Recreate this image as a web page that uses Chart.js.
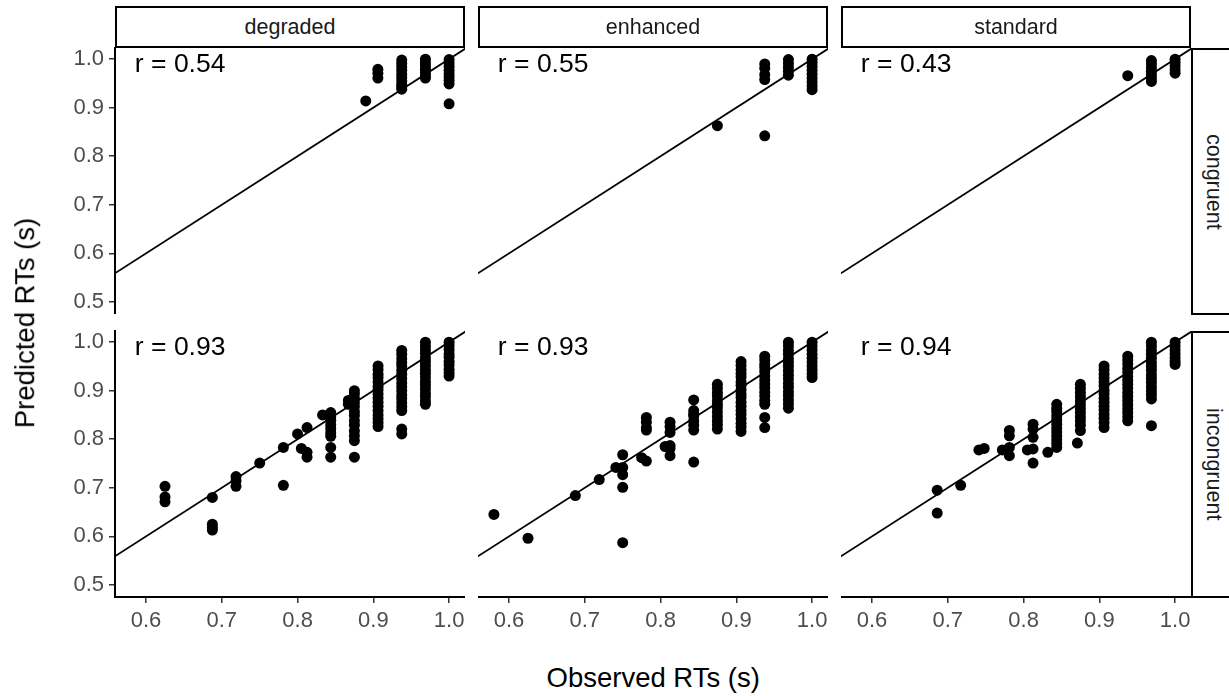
<!DOCTYPE html>
<html>
<head>
<meta charset="utf-8">
<script src="https://cdn.jsdelivr.net/npm/chart.js@4.4.1/dist/chart.umd.min.js"></script>
<style>
  html, body { margin: 0; padding: 0; background: #fff; overflow: hidden; }
  #fig { position: relative; width: 1229px; height: 696px; overflow: hidden;
         font-family: "Liberation Sans", Arial, sans-serif; }
  #fig canvas { position: absolute; }
  .strip { position: absolute; box-sizing: border-box; border: 2px solid #000; background: #fff;
           color: #1a1a1a; font-size: 21.5px; display: flex; align-items: center; justify-content: center; }
  .strip.side { writing-mode: vertical-rl; }
  .title { position: absolute; color: #000; font-size: 27.5px; white-space: nowrap; }
</style>
</head>
<body>
<div id="fig"></div>
<script>
// facets
var conditions = ['degraded', 'enhanced', 'standard'];
var congruency = ['congruent', 'incongruent'];
var rValues = [[0.54, 0.55, 0.43], [0.93, 0.93, 0.94]];

var xTicks = [0.6, 0.7, 0.8, 0.9, 1.0];
var yTicks = [0.5, 0.6, 0.7, 0.8, 0.9, 1.0];

// degraded / congruent
var degCongObs  = [0.89,
  0.906, 0.906, 0.906,
  0.9375, 0.9375, 0.9375, 0.9375, 0.9375, 0.9375, 0.9375, 0.9375, 0.9375, 0.9375,
  0.96875, 0.96875, 0.96875, 0.96875, 0.96875, 0.96875, 0.96875,
  1.0, 1.0, 1.0, 1.0, 1.0, 1.0, 1.0, 1.0, 1.0];
var degCongPred = [0.914,
  0.979, 0.971, 0.961,
  0.998, 0.991, 0.984, 0.977, 0.969, 0.962, 0.955, 0.948, 0.943, 0.938,
  1.0, 0.993, 0.986, 0.979, 0.972, 0.966, 0.961,
  0.999, 0.992, 0.985, 0.977, 0.970, 0.963, 0.956, 0.949, 0.908];

// enhanced / congruent
var enhCongObs  = [0.875,
  0.9375, 0.9375, 0.9375, 0.9375, 0.9375,
  0.96875, 0.96875, 0.96875, 0.96875, 0.96875,
  1.0, 1.0, 1.0, 1.0, 1.0, 1.0, 1.0, 1.0, 1.0];
var enhCongPred = [0.863,
  0.990, 0.981, 0.968, 0.958, 0.842,
  0.999, 0.991, 0.983, 0.975, 0.967,
  1.0, 0.993, 0.985, 0.977, 0.969, 0.961, 0.953, 0.945, 0.937];

// standard / congruent
var stdCongObs  = [0.9375,
  0.96875, 0.96875, 0.96875, 0.96875, 0.96875, 0.96875, 0.96875,
  1.0, 1.0, 1.0, 1.0, 1.0];
var stdCongPred = [0.966,
  0.997, 0.990, 0.982, 0.975, 0.968, 0.961, 0.954,
  1.0, 0.993, 0.986, 0.978, 0.971];

// degraded / incongruent
var degIncObs  = [0.625, 0.625, 0.625,
  0.6875, 0.6875, 0.6875, 0.6875,
  0.71875, 0.71875, 0.71875,
  0.75,
  0.78125, 0.78125,
  0.8, 0.805,
  0.8125, 0.8125, 0.8125,
  0.833,
  0.84375, 0.84375, 0.84375, 0.84375, 0.84375, 0.84375, 0.84375, 0.84375, 0.84375,
  0.867, 0.867,
  0.875, 0.875, 0.875, 0.875, 0.875, 0.875, 0.875, 0.875, 0.875, 0.875, 0.875, 0.875, 0.875,
  0.90625, 0.90625, 0.90625, 0.90625, 0.90625, 0.90625, 0.90625, 0.90625, 0.90625, 0.90625, 0.90625, 0.90625, 0.90625, 0.90625, 0.90625, 0.90625,
  0.9375, 0.9375, 0.9375, 0.9375, 0.9375, 0.9375, 0.9375, 0.9375, 0.9375, 0.9375, 0.9375, 0.9375, 0.9375, 0.9375, 0.9375, 0.9375, 0.9375, 0.9375,
  0.96875, 0.96875, 0.96875, 0.96875, 0.96875, 0.96875, 0.96875, 0.96875, 0.96875, 0.96875, 0.96875, 0.96875, 0.96875, 0.96875, 0.96875, 0.96875, 0.96875,
  1.0, 1.0, 1.0, 1.0, 1.0, 1.0, 1.0, 1.0, 1.0, 1.0];
var degIncPred = [0.703, 0.681, 0.671,
  0.680, 0.625, 0.618, 0.613,
  0.723, 0.714, 0.703,
  0.751,
  0.783, 0.705,
  0.811, 0.781,
  0.824, 0.773, 0.763,
  0.850,
  0.855, 0.846, 0.839, 0.830, 0.822, 0.813, 0.806, 0.783, 0.763,
  0.880, 0.872,
  0.900, 0.893, 0.884, 0.875, 0.867, 0.857, 0.849, 0.838, 0.829, 0.817, 0.807, 0.797, 0.763,
  0.951, 0.943, 0.934, 0.927, 0.918, 0.909, 0.902, 0.893, 0.885, 0.876, 0.868, 0.859, 0.850, 0.842, 0.834, 0.826,
  0.983, 0.975, 0.966, 0.958, 0.951, 0.942, 0.934, 0.925, 0.916, 0.908, 0.900, 0.891, 0.884, 0.875, 0.867, 0.859, 0.821, 0.811,
  1.0, 0.992, 0.984, 0.977, 0.968, 0.960, 0.952, 0.943, 0.936, 0.928, 0.919, 0.912, 0.904, 0.895, 0.888, 0.879, 0.872,
  1.0, 0.993, 0.985, 0.976, 0.969, 0.960, 0.953, 0.944, 0.937, 0.930];

// enhanced / incongruent
var enhIncObs  = [0.58, 0.625, 0.6875, 0.719, 0.741,
  0.75, 0.75, 0.75, 0.75, 0.75,
  0.775,
  0.78125, 0.78125, 0.78125, 0.78125, 0.78125,
  0.806,
  0.8125, 0.8125, 0.8125, 0.8125, 0.8125, 0.8125,
  0.84375, 0.84375, 0.84375, 0.84375, 0.84375, 0.84375, 0.84375, 0.84375,
  0.875, 0.875, 0.875, 0.875, 0.875, 0.875, 0.875, 0.875, 0.875, 0.875, 0.875, 0.875,
  0.90625, 0.90625, 0.90625, 0.90625, 0.90625, 0.90625, 0.90625, 0.90625, 0.90625, 0.90625, 0.90625, 0.90625, 0.90625, 0.90625, 0.90625, 0.90625, 0.90625, 0.90625,
  0.9375, 0.9375, 0.9375, 0.9375, 0.9375, 0.9375, 0.9375, 0.9375, 0.9375, 0.9375, 0.9375, 0.9375, 0.9375, 0.9375, 0.9375,
  0.96875, 0.96875, 0.96875, 0.96875, 0.96875, 0.96875, 0.96875, 0.96875, 0.96875, 0.96875, 0.96875, 0.96875, 0.96875, 0.96875, 0.96875, 0.96875, 0.96875,
  1.0, 1.0, 1.0, 1.0, 1.0, 1.0, 1.0, 1.0, 1.0, 1.0];
var enhIncPred = [0.645, 0.596, 0.684, 0.717, 0.742,
  0.768, 0.742, 0.727, 0.701, 0.587,
  0.762,
  0.845, 0.835, 0.824, 0.819, 0.755,
  0.785,
  0.835, 0.826, 0.814, 0.787, 0.781, 0.766,
  0.881, 0.859, 0.852, 0.848, 0.838, 0.829, 0.819, 0.753,
  0.913, 0.905, 0.896, 0.889, 0.880, 0.872, 0.865, 0.856, 0.847, 0.838, 0.830, 0.821,
  0.960, 0.952, 0.943, 0.935, 0.928, 0.918, 0.911, 0.902, 0.893, 0.886, 0.876, 0.868, 0.859, 0.851, 0.842, 0.833, 0.825, 0.816,
  0.971, 0.963, 0.954, 0.947, 0.939, 0.930, 0.922, 0.914, 0.906, 0.897, 0.889, 0.880, 0.872, 0.845, 0.824,
  1.0, 0.992, 0.983, 0.975, 0.966, 0.958, 0.950, 0.941, 0.932, 0.924, 0.915, 0.907, 0.898, 0.890, 0.881, 0.873, 0.864,
  1.0, 0.992, 0.984, 0.975, 0.967, 0.959, 0.951, 0.943, 0.935, 0.927];

// standard / incongruent
var stdIncObs  = [0.686, 0.686, 0.717, 0.741, 0.748, 0.772,
  0.78125, 0.78125, 0.78125, 0.78125,
  0.805,
  0.8125, 0.8125, 0.8125, 0.8125, 0.8125,
  0.832,
  0.84375, 0.84375, 0.84375, 0.84375, 0.84375, 0.84375, 0.84375, 0.84375, 0.84375, 0.84375, 0.84375, 0.84375,
  0.871,
  0.875, 0.875, 0.875, 0.875, 0.875, 0.875, 0.875, 0.875, 0.875, 0.875, 0.875, 0.875,
  0.90625, 0.90625, 0.90625, 0.90625, 0.90625, 0.90625, 0.90625, 0.90625, 0.90625, 0.90625, 0.90625, 0.90625, 0.90625, 0.90625, 0.90625, 0.90625,
  0.9375, 0.9375, 0.9375, 0.9375, 0.9375, 0.9375, 0.9375, 0.9375, 0.9375, 0.9375, 0.9375, 0.9375, 0.9375, 0.9375, 0.9375, 0.9375, 0.9375,
  0.96875, 0.96875, 0.96875, 0.96875, 0.96875, 0.96875, 0.96875, 0.96875, 0.96875, 0.96875, 0.96875, 0.96875, 0.96875, 0.96875, 0.96875, 0.96875,
  1.0, 1.0, 1.0, 1.0, 1.0, 1.0, 1.0];
var stdIncPred = [0.695, 0.648, 0.705, 0.778, 0.781, 0.778,
  0.818, 0.807, 0.783, 0.766,
  0.778,
  0.831, 0.821, 0.804, 0.780, 0.751,
  0.773,
  0.872, 0.864, 0.857, 0.848, 0.840, 0.831, 0.823, 0.815, 0.807, 0.799, 0.791, 0.783,
  0.792,
  0.913, 0.905, 0.896, 0.888, 0.879, 0.871, 0.863, 0.855, 0.846, 0.838, 0.829, 0.818,
  0.951, 0.943, 0.934, 0.926, 0.918, 0.910, 0.901, 0.893, 0.884, 0.876, 0.868, 0.860, 0.851, 0.843, 0.834, 0.824,
  0.971, 0.963, 0.955, 0.946, 0.938, 0.929, 0.921, 0.913, 0.905, 0.896, 0.888, 0.880, 0.871, 0.863, 0.855, 0.846, 0.838,
  1.0, 0.992, 0.983, 0.975, 0.967, 0.958, 0.950, 0.942, 0.933, 0.925, 0.917, 0.908, 0.900, 0.892, 0.883, 0.828,
  1.0, 0.992, 0.984, 0.976, 0.968, 0.960, 0.954];

var panelData = [
  [[degCongObs, degCongPred], [enhCongObs, enhCongPred], [stdCongObs, stdCongPred]],
  [[degIncObs, degIncPred], [enhIncObs, enhIncPred], [stdIncObs, stdIncPred]]
];

// page layout (px)
var FONT = '"Liberation Sans", Arial, sans-serif';
var colLeft = [115, 478, 841];
var rowTop = [47, 330];
var panelW = 350, panelH = 267;
var yAxisW = 115, xAxisH = 40;
var xRange = [0.559, 1.021];
var yRange = [0.475, 1.025];

var fig = document.getElementById('fig');

// r annotation in the top left corner of each panel
var rLabel = {
  id: 'rLabel',
  afterDatasetsDraw: function(chart, args, opts) {
    var ctx = chart.ctx, sx = chart.scales.x, sy = chart.scales.y;
    ctx.save();
    ctx.font = '26.5px ' + FONT;
    ctx.fillStyle = '#000';
    ctx.textAlign = 'center';
    ctx.textBaseline = 'alphabetic';
    ctx.fillText(opts.text, sx.getPixelForValue(0.645), sy.getPixelForValue(0.974));
    ctx.restore();
  }
};

function axisOpts(range, ticks, show, horizontal) {
  return {
    type: 'linear',
    min: range[0],
    max: range[1],
    bounds: 'data',
    display: show,
    afterBuildTicks: function(s) { s.ticks = ticks.map(function(v) { return { value: v }; }); },
    afterFit: function(s) {
      // hidden axes take no room at all
      if (!show) { s.width = 0; s.height = 0; }
      else if (horizontal) { s.height = xAxisH; }
      else { s.width = yAxisW; }
      s.paddingLeft = s.paddingRight = s.paddingTop = s.paddingBottom = 0;
    },
    grid: { drawOnChartArea: false, drawTicks: true, tickLength: 6, color: '#333333', lineWidth: 1.5 },
    border: { display: true, color: '#000', width: 2 },
    ticks: {
      color: '#4d4d4d',
      font: { family: FONT, size: 22 },
      padding: horizontal ? 5 : 5,
      maxRotation: 0,
      autoSkip: false,
      callback: function(v) { return Number(v).toFixed(1); }
    }
  };
}

for (var row = 0; row < 2; row++) {
  for (var col = 0; col < 3; col++) {
    var showY = col === 0, showX = row === 1;
    var w = panelW + (showY ? yAxisW : 0);
    var h = panelH + (showX ? xAxisH : 0);
    var cv = document.createElement('canvas');
    cv.width = w; cv.height = h;
    cv.style.width = w + 'px';
    cv.style.height = h + 'px';
    cv.style.left = (colLeft[col] - (showY ? yAxisW : 0)) + 'px';
    cv.style.top = rowTop[row] + 'px';
    fig.appendChild(cv);

    var obs = panelData[row][col][0], pred = panelData[row][col][1];
    var pts = obs.map(function(x, i) { return { x: x, y: pred[i] }; });

    new Chart(cv, {
      type: 'scatter',
      data: {
        datasets: [{
          // identity line y = x
          type: 'line',
          data: [{ x: 0.4, y: 0.4 }, { x: 1.1, y: 1.1 }],
          borderColor: '#000',
          borderWidth: 1.8,
          pointRadius: 0,
          fill: false
        }, {
          data: pts,
          backgroundColor: '#000',
          borderWidth: 0,
          pointRadius: 5.5
        }]
      },
      options: {
        responsive: false,
        maintainAspectRatio: false,
        animation: false,
        devicePixelRatio: 1,
        layout: { padding: 0, autoPadding: false },
        plugins: {
          legend: { display: false },
          tooltip: { enabled: false },
          rLabel: { text: 'r = ' + rValues[row][col].toFixed(2) }
        },
        scales: {
          x: axisOpts(xRange, xTicks, showX, true),
          y: axisOpts(yRange, yTicks, showY, false)
        }
      },
      plugins: [rLabel]
    });
  }
}

// strips on top (columns) and right (rows)
conditions.forEach(function(name, i) {
  var d = document.createElement('div');
  d.className = 'strip';
  d.style.left = colLeft[i] + 'px';
  d.style.top = '6px';
  d.style.width = panelW + 'px';
  d.style.height = '42px';
  d.textContent = name;
  fig.appendChild(d);
});
congruency.forEach(function(name, i) {
  var d = document.createElement('div');
  d.className = 'strip side';
  d.style.left = '1191px';
  d.style.top = (rowTop[i] + 1) + 'px';
  d.style.width = '45px';
  d.style.height = panelH + 'px';
  d.textContent = name;
  fig.appendChild(d);
});

// axis titles
var xt = document.createElement('div');
xt.className = 'title';
xt.textContent = 'Observed RTs (s)';
fig.appendChild(xt);
xt.style.left = (653 - xt.offsetWidth / 2) + 'px';
xt.style.top = (678 - xt.offsetHeight / 2) + 'px';

var yt = document.createElement('div');
yt.className = 'title';
yt.textContent = 'Predicted RTs (s)';
fig.appendChild(yt);
yt.style.left = (25 - yt.offsetWidth / 2) + 'px';
yt.style.top = (323 - yt.offsetHeight / 2) + 'px';
yt.style.transform = 'rotate(-90deg)';
</script>
</body>
</html>
